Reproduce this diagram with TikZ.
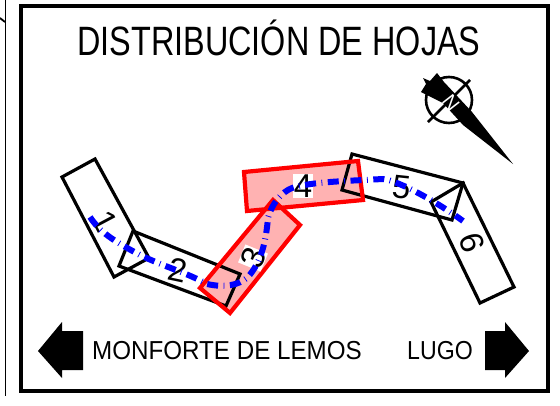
\documentclass[tikz,border=0pt]{standalone}
\usepackage{fontspec}
\setmainfont{Liberation Sans}
\begin{document}
\begin{tikzpicture}[x=1pt,y=-1pt,
  sheetblack/.style={draw=black,line width=3.2pt,line join=miter},
  sheetredfill/.style={fill=red!30},
  sheetred/.style={draw=red,line width=4.2pt,line join=miter},
  num/.style={font=\fontsize{33}{33}\selectfont,inner sep=0.5pt},
  lab/.style={font=\fontsize{26}{26}\selectfont,inner sep=0pt,anchor=base west},
  dirarrow/.style={fill=black,draw=none}]
\useasboundingbox (0,0) rectangle (560,405);
\fill[white] (0,0) rectangle (560,405);
% edge remnants
\draw[line width=1pt] (5,0) -- (5,396);
\draw[line width=1.8pt] (0,18) -- (5,22);
% frame
\draw[line width=3.6pt] (21,6) rectangle (548,391);
% title
\node[inner sep=0pt,anchor=base] (title) at (279,55) {\fontsize{41}{41}\selectfont\scalebox{0.79}[1]{DISTRIBUCIÓN DE HOJAS}};
% red fills
\fill[sheetredfill] (244,172) -- (358,161) -- (363,200) -- (247,211) -- cycle;
\fill[sheetredfill] (273,200) -- (300,225) -- (230,313) -- (200,288) -- cycle;
% black sheets
\draw[sheetblack] (62,177) -- (95,159) -- (149,258) -- (114,277) -- cycle;
\draw[sheetblack] (133,231) -- (240,274) -- (226,306) -- (119,266) -- cycle;
\draw[sheetblack] (352,154) -- (463,183) -- (452,220) -- (342,190) -- cycle;
\draw[sheetblack] (431,202) -- (463,183) -- (514,287) -- (480,303) -- cycle;
% red outlines
\draw[sheetred] (244,172) -- (358,161) -- (363,200) -- (247,211) -- cycle;
\draw[sheetred] (273,200) -- (300,225) -- (230,313) -- (200,288) -- cycle;
% numbers
\node[num,rotate=-62] (n1) at (105,221) {1};
\node[num,rotate=-12] (n2) at (178,270) {2};
\node[num,rotate=68,fill=white] (n3) at (253,258) {3};
\node[num,rotate=0,fill=white] (n4) at (303,186) {4};
\node[num,rotate=-6] (n5) at (402,187) {5};
\node[num,rotate=-72] (n6) at (472,243) {6};
% blue route
\draw[blue,line width=6pt,dash pattern=on 11pt off 5.5pt on 0.8pt off 5.5pt]
  (90,217) .. controls (100,232) and (112,240) .. (140,255)
  .. controls (165,267) and (185,272) .. (207,284)
  .. controls (225,288) and (238,285) .. (247,278)
  .. controls (262,262) and (266,240) .. (268,218)
  .. controls (272,203) and (282,192) .. (292,188)
  .. controls (310,182) and (345,181) .. (383,179)
  .. controls (400,181) and (440,204) .. (463,221);
% compass
\draw[line width=2.6pt] (449,100) circle (23);
\draw[line width=2.6pt] (428,122) -- (470,80);
\fill[black] (421,92) -- (426,84) -- (423,78) -- (430,81) -- (437,73) -- (444,82) -- (472,112) -- (513,164) -- (463,125) -- (443,103) -- cycle;
\node[text=white,font=\fontsize{20}{20}\selectfont,rotate=-52,inner sep=0pt] (north) at (451,103) {N};
% arrows
\fill[dirarrow] (38,351) -- (62,322) -- (62,331) -- (83,331) -- (83,370) -- (62,370) -- (62,378) -- cycle;
\fill[dirarrow] (529,351) -- (505,322) -- (505,331) -- (485,331) -- (485,370) -- (505,370) -- (505,378) -- cycle;
\node[lab] (mon) at (92,359) {\scalebox{0.93}[1]{MONFORTE DE LEMOS}};
\node[lab] (lugo) at (407,359) {\scalebox{0.89}[1]{LUGO}};
\end{tikzpicture}
\end{document}
